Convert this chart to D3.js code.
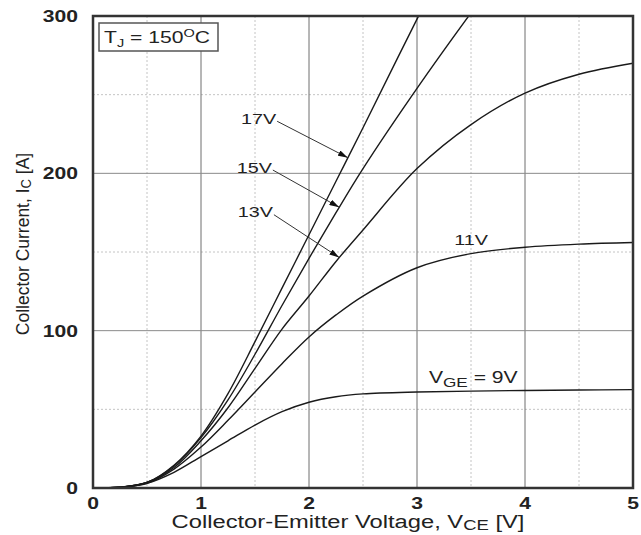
<!DOCTYPE html>
<html>
<head>
<meta charset="utf-8">
<script src="https://cdn.jsdelivr.net/npm/d3@7"></script>
<style>
  body { margin: 0; background: #fff; }
  svg { display: block; font-family: "Liberation Sans", Arial, sans-serif; }
</style>
</head>
<body>
<div id="chart"></div>
<script>
// collector-emitter voltage grid [V] and collector current per gate voltage [A]
var vce  = [0, 0.25, 0.5, 0.75, 1, 1.25, 1.5, 1.75, 2, 2.25, 2.5, 3, 3.5, 4, 4.5, 5];
var ic9  = [0, 0.5, 3, 10, 20, 30, 40, 48.5, 54.5, 58, 59.8, 61, 61.6, 62, 62.3, 62.5];
var ic11 = [0, 0.5, 3, 12, 26, 43, 61, 79, 96, 110, 122, 140, 149, 153, 155, 156];
var ic13 = [0, 0.5, 3.5, 13, 30, 51, 76, 101, 122, 144, 164, 203, 231, 251, 263, 270];
var ic15 = [0, 0.5, 3.5, 14, 32, 56, 85, 116, 146, 175, 203, 254, 302, 348, 392, 435];
var ic17 = [0, 0.5, 3.5, 14.5, 33, 60, 93, 127, 161, 195, 229, 298, 365, 430, 495, 560];
var gateVoltages = ["9V", "11V", "13V", "15V", "17V"];

var xTicks = [0, 1, 2, 3, 4, 5];
var yTicks = [0, 100, 200, 300];

// arrow labels: where the text sits and the Vce where the arrow hits its curve
var arrowLabels = ["17V", "15V", "13V"];
var arrowLabelV = [1.37, 1.33, 1.34];
var arrowLabelI = [235, 204, 175.6];
var arrowTipV   = [2.36, 2.28, 2.28];

var width = 641, height = 535,
    pL = 93, pR = 633, pT = 16, pB = 488,
    sx = 1.32; // the source lettering is stretched sideways

var x = d3.scaleLinear().domain([0, 5]).range([pL, pR]);
var y = d3.scaleLinear().domain([0, 300]).range([pB, pT]);

var svg = d3.select("#chart").append("svg")
  .attr("width", width)
  .attr("height", height);

var defs = svg.append("defs");
defs.append("clipPath").attr("id", "plot")
  .append("rect")
  .attr("x", pL).attr("y", pT)
  .attr("width", pR - pL).attr("height", pB - pT);
defs.append("marker")
  .attr("id", "arrow")
  .attr("markerUnits", "userSpaceOnUse")
  .attr("markerWidth", 10).attr("markerHeight", 6)
  .attr("refX", 10).attr("refY", 3)
  .attr("orient", "auto")
  .append("path")
  .attr("d", "M0,0 L10,3 L0,6 Z")
  .style("fill", "#111");

// minor grid (dotted)
var grid = svg.append("g");
grid.selectAll(".vminor")
  .data(d3.range(0.5, 5, 1))
  .enter().append("line")
  .attr("x1", function(d) { return x(d); })
  .attr("x2", function(d) { return x(d); })
  .attr("y1", pT).attr("y2", pB)
  .style("stroke", "#c4c4c4")
  .style("stroke-dasharray", "2,2");
grid.selectAll(".hminor")
  .data(d3.range(50, 300, 100))
  .enter().append("line")
  .attr("x1", pL).attr("x2", pR)
  .attr("y1", function(d) { return y(d); })
  .attr("y2", function(d) { return y(d); })
  .style("stroke", "#c4c4c4")
  .style("stroke-dasharray", "2,2");

// major grid (solid)
grid.selectAll(".vmajor")
  .data(xTicks.slice(1, -1))
  .enter().append("line")
  .attr("x1", function(d) { return x(d); })
  .attr("x2", function(d) { return x(d); })
  .attr("y1", pT).attr("y2", pB)
  .style("stroke", "#6e6e6e");
grid.selectAll(".hmajor")
  .data(yTicks.slice(1, -1))
  .enter().append("line")
  .attr("x1", pL).attr("x2", pR)
  .attr("y1", function(d) { return y(d); })
  .attr("y2", function(d) { return y(d); })
  .style("stroke", "#8a8a8a");

// curves
var series = [ic9, ic11, ic13, ic15, ic17].map(function(v, i) {
  return { name: gateVoltages[i], values: v };
});

var line = d3.line()
  .x(function(d, i) { return x(vce[i]); })
  .y(function(d) { return y(d); })
  .curve(d3.curveCatmullRom.alpha(0.5));

var curves = svg.append("g").attr("clip-path", "url(#plot)")
  .selectAll("path")
  .data(series)
  .enter().append("path")
  .attr("d", function(d) { return line(d.values); })
  .style("fill", "none")
  .style("stroke", "#1a1a1a")
  .style("stroke-width", 1.4);

// frame
svg.append("rect")
  .attr("x", pL).attr("y", pT)
  .attr("width", pR - pL).attr("height", pB - pT)
  .style("fill", "none")
  .style("stroke", "#333")
  .style("stroke-width", 2.5);

// tick labels
svg.append("g").selectAll("text")
  .data(xTicks)
  .enter().append("text")
  .attr("transform", function(d) { return "translate(" + x(d) + ",509) scale(" + sx + ",1)"; })
  .style("text-anchor", "middle")
  .style("font-size", "16px")
  .style("font-weight", "bold")
  .style("fill", "#222")
  .text(function(d) { return d; });

svg.append("g").selectAll("text")
  .data(yTicks)
  .enter().append("text")
  .attr("transform", function(d) { return "translate(78," + (y(d) + 6) + ") scale(" + sx + ",1)"; })
  .style("text-anchor", "end")
  .style("font-size", "16px")
  .style("font-weight", "bold")
  .style("fill", "#222")
  .text(function(d) { return d; });

// axis titles
var xt = svg.append("text")
  .attr("transform", "translate(" + ((pL + pR) / 2 - 15) + ",528) scale(" + sx + ",1)")
  .style("text-anchor", "middle")
  .style("font-size", "18px")
  .style("fill", "#222");
xt.append("tspan").text("Collector-Emitter Voltage, V");
xt.append("tspan").style("font-size", "14px").attr("baseline-shift", "-2").text("CE");
xt.append("tspan").text(" [V]");

var yt = svg.append("text")
  .attr("transform", "translate(29," + ((pT + pB) / 2 - 8) + ") rotate(-90) scale(1,1.1)")
  .style("text-anchor", "middle")
  .style("font-size", "17.5px")
  .style("fill", "#222");
yt.append("tspan").text("Collector Current, I");
yt.append("tspan").style("font-size", "13px").attr("baseline-shift", "-2").text("C");
yt.append("tspan").text(" [A]");

// temperature box
var tj = svg.append("g").attr("transform", "translate(" + (pL + 6) + "," + (pT + 7) + ")");
tj.append("rect")
  .attr("width", 119).attr("height", 28)
  .style("fill", "#fff")
  .style("stroke", "#555")
  .style("stroke-width", 1.5);
var tjText = tj.append("text")
  .attr("transform", "translate(5,20) scale(" + sx + ",1)")
  .style("font-size", "16px")
  .style("fill", "#222");
tjText.append("tspan").text("T");
tjText.append("tspan").style("font-size", "11px").attr("baseline-shift", "-4").text("J");
tjText.append("tspan").text(" = 150");
tjText.append("tspan").style("font-size", "11px").attr("baseline-shift", "6").text("O");
tjText.append("tspan").text("C");

// find the point on a curve at a given Vce
function pointOn(path, v) {
  var node = path.node(), len = node.getTotalLength(), lo = 0, hi = len, tx = x(v), p;
  for (var k = 0; k < 40; k++) {
    var mid = (lo + hi) / 2;
    p = node.getPointAtLength(mid);
    if (p.x < tx) lo = mid; else hi = mid;
  }
  return p;
}

// arrow labels
var ann = svg.append("g");
arrowLabels.forEach(function(name, i) {
  var lx = x(arrowLabelV[i]), ly = y(arrowLabelI[i]);
  var t = ann.append("text")
    .attr("transform", "translate(" + lx + "," + (ly + 5.5) + ") scale(" + sx + ",1)")
    .style("font-size", "15px")
    .style("fill", "#222")
    .text(name);
  var w = t.node().getComputedTextLength() * sx;
  var curve = curves.filter(function(d) { return d.name === name; });
  var tip = pointOn(curve, arrowTipV[i]);
  ann.append("line")
    .attr("x1", lx + w + 1).attr("y1", ly + 3)
    .attr("x2", tip.x).attr("y2", tip.y)
    .attr("marker-end", "url(#arrow)")
    .style("stroke", "#333")
    .style("stroke-width", 1);
});

// plain labels
ann.append("text")
  .attr("transform", "translate(" + x(3.5) + "," + (y(157.7) + 5.5) + ") scale(" + sx + ",1)")
  .style("text-anchor", "middle")
  .style("font-size", "15px")
  .style("fill", "#222")
  .text(gateVoltages[1]);

var vge = ann.append("text")
  .attr("transform", "translate(" + x(3.11) + "," + (y(70) + 5.5) + ") scale(" + sx + ",1)")
  .style("font-size", "16px")
  .style("fill", "#222");
vge.append("tspan").text("V");
vge.append("tspan").style("font-size", "13px").attr("baseline-shift", "-3").text("GE");
vge.append("tspan").text(" = " + gateVoltages[0]);
</script>
</body>
</html>
